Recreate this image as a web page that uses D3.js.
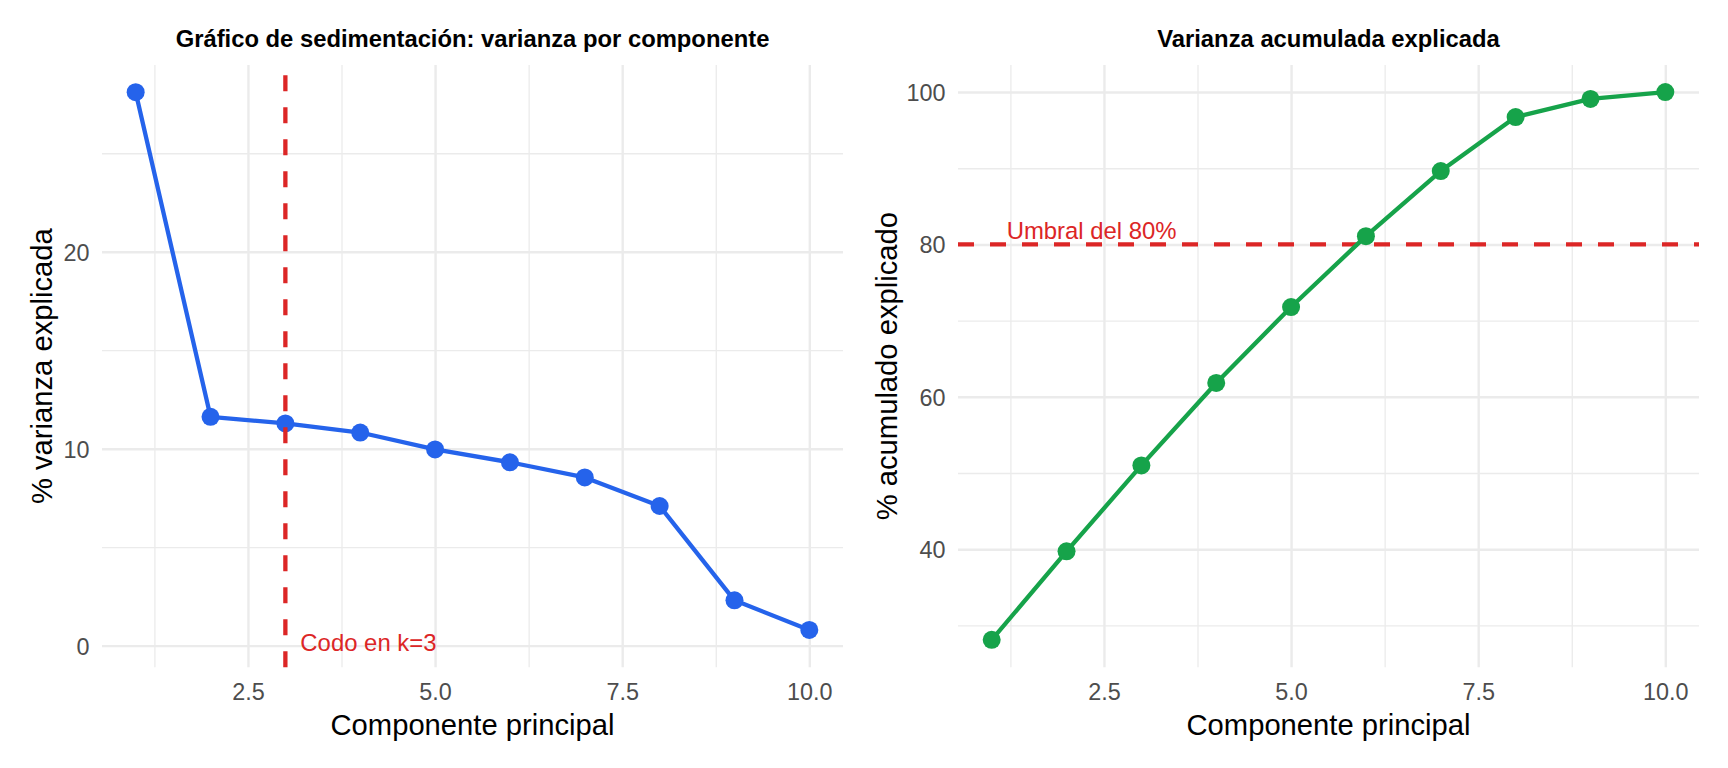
<!DOCTYPE html>
<html>
<head>
<meta charset="utf-8">
<script src="https://cdn.jsdelivr.net/npm/d3@7"></script>
<style>
    body { margin: 0; background: #fff; }
    svg { display: block; font-family: 'Liberation Sans', Arial, sans-serif; }
</style>
</head>
<body>
<div class="container"></div>
<script>
//data
const componentes = [1, 2, 3, 4, 5, 6, 7, 8, 9, 10];
const varianzaPct = [28.1, 11.62, 11.28, 10.82, 9.96, 9.31, 8.54, 7.09, 2.3, 0.8];
const acumuladoPct = [28.1, 39.72, 51.0, 61.82, 71.78, 81.09, 89.63, 96.72, 99.1, 100];

//tick values
const xTicks = [2.5, 5.0, 7.5, 10.0];
const xMinor = [1.25, 3.75, 6.25, 8.75];
const yTicksLeft = [0, 10, 20];
const yMinorLeft = [5, 15, 25];
const yTicksRight = [40, 60, 80, 100];
const yMinorRight = [30, 50, 70, 90];

//reference lines
const codoK = 3;
const umbral = 80;

const width = 1728;
const height = 768;

const colors = {blue: '#2563EB', green: '#16A34A', red: '#DC2626', grid: '#EBEBEB', tick: '#4D4D4D'};

//font sizes
const fs = {title: 23.8, axisTitle: 29.2, tick: 23.4, note: 23.9};

//panels share the same vertical extent
const panelTop = 65;
const panelBottom = 667.3;

const svg = d3.select('.container')
    .append('svg')
    .attr('width', width)
    .attr('height', height);

//draws gridlines (major + minor) and tick labels for one panel
function drawAxes(g, xScale, yScale, yTicks, yMinor, pw, ph){
    //minor grid
    g.append('g')
        .attr('class', 'grid minor')
        .attr('transform', `translate(0, ${ph})`)
        .call(d3.axisBottom(xScale).tickValues(xMinor).tickSizeInner(-ph).tickSizeOuter(0).tickFormat(''));
    g.append('g')
        .attr('class', 'grid minor')
        .call(d3.axisLeft(yScale).tickValues(yMinor).tickSizeInner(-pw).tickSizeOuter(0).tickFormat(''));

    //major grid with labels
    const xAxis = g.append('g')
        .attr('class', 'x axis')
        .attr('transform', `translate(0, ${ph})`)
        .call(d3.axisBottom(xScale)
            .tickValues(xTicks)
            .tickFormat(d3.format('.1f'))
            .tickSizeInner(-ph)
            .tickSizeOuter(0)
            .tickPadding(16));
    const yAxis = g.append('g')
        .attr('class', 'y axis')
        .call(d3.axisLeft(yScale)
            .tickValues(yTicks)
            .tickFormat(d3.format('d'))
            .tickSizeInner(-pw)
            .tickSizeOuter(0)
            .tickPadding(12.5));
    yAxis.selectAll('text').attr('dy', '0.36em');

    g.selectAll('.domain').remove();
    g.selectAll('.grid line').attr('stroke', colors.grid).attr('stroke-width', 1.3);
    g.selectAll('.axis line').attr('stroke', colors.grid).attr('stroke-width', 2.4);
    g.selectAll('.axis text')
        .attr('font-family', 'Liberation Sans, Arial, sans-serif')
        .attr('font-size', fs.tick)
        .attr('fill', colors.tick);
}

//draws titles of one panel
function drawLabels(g, pw, ph, title, yTitle, yTitleX){
    g.append('text')
        .attr('x', pw / 2)
        .attr('y', 46.7 - panelTop)
        .attr('text-anchor', 'middle')
        .attr('font-size', fs.title)
        .attr('font-weight', 'bold')
        .attr('fill', '#000')
        .text(title);

    g.append('text')
        .attr('x', pw / 2)
        .attr('y', 735 - panelTop)
        .attr('text-anchor', 'middle')
        .attr('font-size', fs.axisTitle)
        .attr('fill', '#000')
        .text('Componente principal');

    g.append('text')
        .attr('transform', `translate(${yTitleX}, ${ph / 2}) rotate(-90)`)
        .attr('text-anchor', 'middle')
        .attr('font-size', fs.axisTitle)
        .attr('fill', '#000')
        .text(yTitle);
}

//---------- left panel: scree plot ----------
const leftX0 = 102, leftX1 = 843;
const pwL = leftX1 - leftX0;
const ph = panelBottom - panelTop;

const xL = d3.scaleLinear().domain([0.55, 10.45]).range([0, pwL]);
const yL = d3.scaleLinear().domain([-1.1, 29.48]).range([ph, 0]);

const gL = svg.append('g').attr('transform', `translate(${leftX0}, ${panelTop})`);
drawAxes(gL, xL, yL, yTicksLeft, yMinorLeft, pwL, ph);

const scree = componentes.map((c, i) => ({c: c, v: varianzaPct[i]}));

gL.append('path')
    .datum(scree)
    .attr('fill', 'none')
    .attr('stroke', colors.blue)
    .attr('stroke-width', 4.3)
    .attr('stroke-linejoin', 'round')
    .attr('d', d3.line().x(d => xL(d.c)).y(d => yL(d.v)));

gL.append('g')
    .selectAll('circle')
    .data(scree)
    .enter()
    .append('circle')
    .attr('cx', d => xL(d.c))
    .attr('cy', d => yL(d.v))
    .attr('r', 9)
    .style('fill', colors.blue);

//elbow line, drawn bottom-up so the dash pattern starts at the bottom
gL.append('line')
    .attr('x1', xL(codoK)).attr('x2', xL(codoK))
    .attr('y1', ph).attr('y2', 0)
    .attr('stroke', colors.red)
    .attr('stroke-width', 4.3)
    .attr('stroke-dasharray', '16 16');

gL.append('text')
    .attr('x', xL(codoK + 0.2))
    .attr('y', yL(0) + 5)
    .attr('font-size', fs.note)
    .attr('fill', colors.red)
    .text('Codo en k=3');

drawLabels(gL, pwL, ph, 'Gráfico de sedimentación: varianza por componente', '% varianza explicada', 52 - leftX0);

//---------- right panel: cumulative ----------
const rightX0 = 958, rightX1 = 1699;
const pwR = rightX1 - rightX0;

const xR = d3.scaleLinear().domain([0.55, 10.45]).range([0, pwR]);
const yR = d3.scaleLinear().domain([24.5, 103.55]).range([ph, 0]);

const gR = svg.append('g').attr('transform', `translate(${rightX0}, ${panelTop})`);
drawAxes(gR, xR, yR, yTicksRight, yMinorRight, pwR, ph);

//threshold line
gR.append('line')
    .attr('x1', 0).attr('x2', pwR)
    .attr('y1', yR(umbral)).attr('y2', yR(umbral))
    .attr('stroke', colors.red)
    .attr('stroke-width', 4.3)
    .attr('stroke-dasharray', '16 16');

gR.append('text')
    .attr('x', xR(1.2))
    .attr('y', yR(umbral) - 5.7)
    .attr('font-size', fs.note)
    .attr('fill', colors.red)
    .text('Umbral del 80%');

const cumul = componentes.map((c, i) => ({c: c, v: acumuladoPct[i]}));

gR.append('path')
    .datum(cumul)
    .attr('fill', 'none')
    .attr('stroke', colors.green)
    .attr('stroke-width', 4.3)
    .attr('stroke-linejoin', 'round')
    .attr('d', d3.line().x(d => xR(d.c)).y(d => yR(d.v)));

gR.append('g')
    .selectAll('circle')
    .data(cumul)
    .enter()
    .append('circle')
    .attr('cx', d => xR(d.c))
    .attr('cy', d => yR(d.v))
    .attr('r', 9)
    .style('fill', colors.green);

drawLabels(gR, pwR, ph, 'Varianza acumulada explicada', '% acumulado explicado', 897 - rightX0);
</script>
</body>
</html>
